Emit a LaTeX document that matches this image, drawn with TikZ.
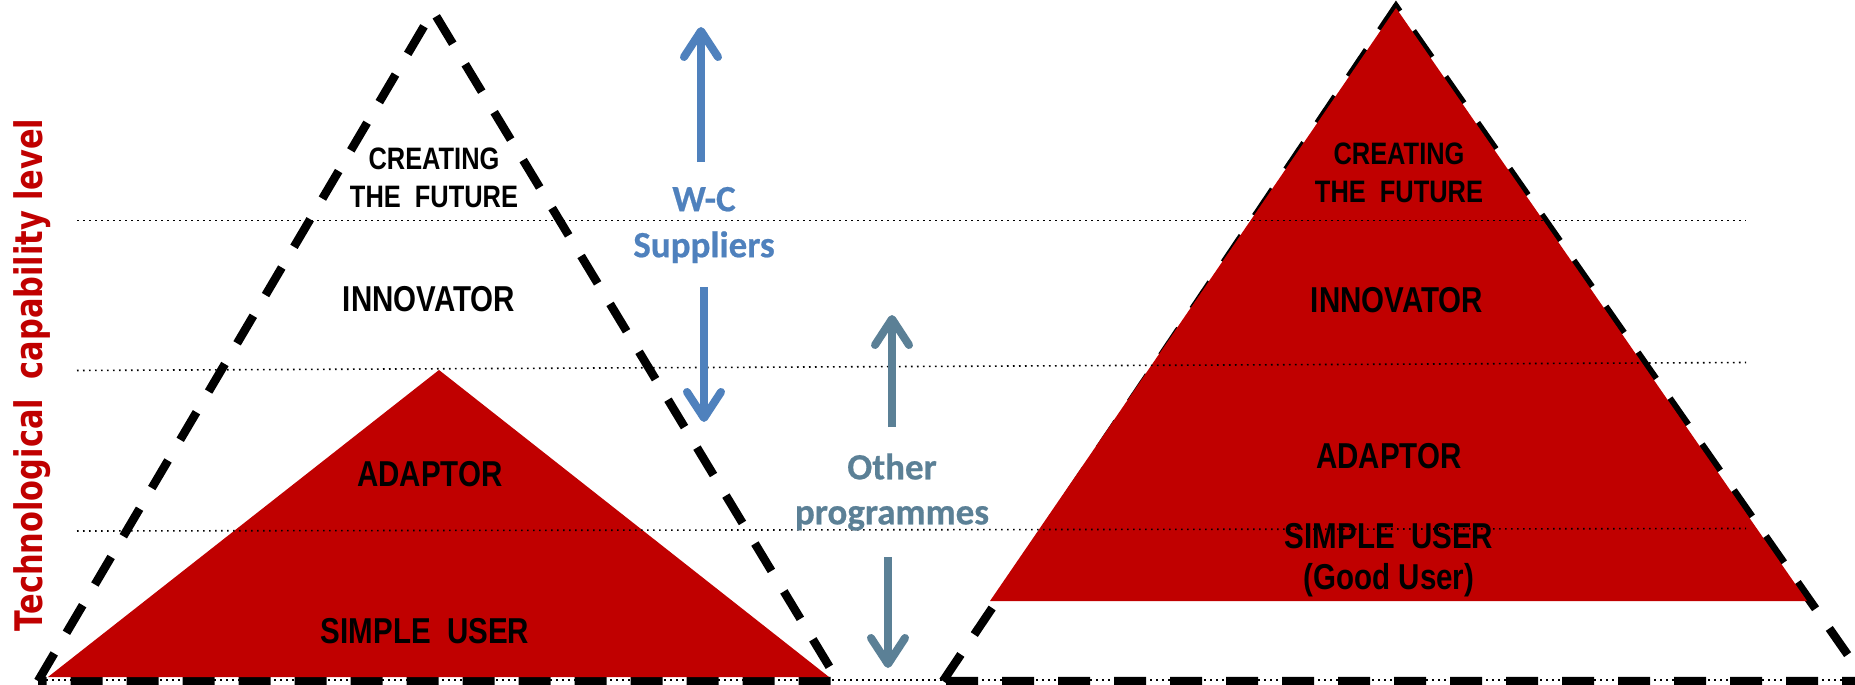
\documentclass[tikz,border=0pt]{standalone}
\usepackage{fontspec}
\setmainfont{Liberation Sans}
\newfontfamily\narrowfont[FakeStretch=0.82]{Liberation Sans}
\newfontfamily\axisfont[FakeStretch=0.8]{DejaVu Sans}
\newfontfamily\calfont[FakeBold=0.6]{Carlito}
\usetikzlibrary{arrows.meta}
\definecolor{pyrred}{HTML}{C00000}
\definecolor{wcblue}{HTML}{4F81BD}
\definecolor{progblue}{HTML}{5B8096}
\begin{document}
\begin{tikzpicture}[x=1pt,y=-1pt,
  dashtri/.style={draw=black, line width=8.5pt, dash pattern=on 32pt off 24pt},
  redfill/.style={fill=pyrred, draw=none},
  dotline/.style={draw=black, line width=1.6pt, dash pattern=on 1.6pt off 4.4pt},
  lvl/.style={inner sep=0pt, text=black, font=\narrowfont\bfseries\fontsize{36}{40}\selectfont},
  toplvl/.style={inner sep=0pt, text=black, align=center, font=\narrowfont\bfseries\fontsize{31}{38}\selectfont},
  wclabel/.style={inner sep=0pt, align=center, text=wcblue, font=\calfont\bfseries\fontsize{37}{46}\selectfont},
  proglabel/.style={inner sep=0pt, align=center, text=progblue, font=\calfont\bfseries\fontsize{37}{45}\selectfont},
  wcarrow/.style={draw=wcblue, line width=8pt, -{Straight Barb[length=26pt,width=34pt,round]}},
  progarrow/.style={draw=progblue, line width=8pt, -{Straight Barb[length=26pt,width=34pt,round]}},
  axislabel/.style={inner sep=0pt, text=pyrred, rotate=90, anchor=base, font=\axisfont\bfseries\fontsize{38}{44}\selectfont}
]
\clip (0,0) rectangle (1855,685);
\fill[white] (0,0) rectangle (1855,685);

% dashed triangles
\coordinate (LA) at (433,11);
\coordinate (LBL) at (38,681);
\coordinate (LBR) at (838,681);
\coordinate (RA) at (1396,8);
\coordinate (RBL) at (943,681);
\coordinate (RBR) at (1866,681);
\draw[dashtri] (LBL) -- (LA) -- (LBR) -- cycle;
\draw[dashtri] (RBL) -- (RA) -- (RBR) -- cycle;

% red pyramids
\coordinate (lra) at (439,370);
\coordinate (lrl) at (48,677);
\coordinate (lrr) at (829,677);
\fill[redfill] (lrl) -- (lra) -- (lrr) -- cycle;
\coordinate (rra) at (1396,8);
\coordinate (rrl) at (990,601);
\coordinate (rrr) at (1807,601);
\fill[redfill] (rrl) -- (rra) -- (rrr) -- cycle;

% dotted level lines
\coordinate (d1a) at (77,220.5); \coordinate (d1b) at (1746,220.5);
\coordinate (d2a) at (77,370.5); \coordinate (d2b) at (1746,362.5);
\coordinate (d3a) at (77,531);   \coordinate (d3b) at (1746,528.5);
\coordinate (d4a) at (40,680);   \coordinate (d4b) at (1855,680);
\draw[dotline] (d1a) -- (d1b);
\draw[dotline] (d2a) -- (d2b);
\draw[dotline] (d3a) -- (d3b);
\draw[dotline] (d4a) -- (d4b);

% left pyramid labels
\node[toplvl] (lcf) at (434,178) {CREATING\\THE\ \ FUTURE};
\node[lvl] (linn) at (429,299) {INNOVATOR};
\node[lvl] (lada) at (430,474) {ADAPTOR};
\node[lvl] (lsu) at (425,631) {SIMPLE\ \ USER};

% right pyramid labels
\node[toplvl] (rcf) at (1399,173) {CREATING\\THE\ \ FUTURE};
\node[lvl] (rinn) at (1397,300) {INNOVATOR};
\node[lvl] (rada) at (1389,456) {ADAPTOR};
\node[lvl] (rsu) at (1389,536) {SIMPLE\ \ USER};
\node[lvl] (rgu) at (1389,580) {(Good User)};

% middle labels and arrows
\node[wclabel] (wc) at (704,225) {W-C\\Suppliers};
\node[proglabel] (prog) at (892,492) {Other\\programmes};
\coordinate (wcup1) at (701,162); \coordinate (wcup2) at (701,27);
\coordinate (wcdn1) at (704,287); \coordinate (wcdn2) at (704,422);
\coordinate (pgup1) at (892,427); \coordinate (pgup2) at (892,315);
\coordinate (pgdn1) at (888,557); \coordinate (pgdn2) at (888,668);
\draw[wcarrow] (wcup1) -- (wcup2);
\draw[wcarrow] (wcdn1) -- (wcdn2);
\draw[progarrow] (pgup1) -- (pgup2);
\draw[progarrow] (pgdn1) -- (pgdn2);

% vertical axis label
\node[axislabel] (axis) at (42,375) {Technological\hspace{20pt}capability\hspace{10pt}level};
\end{tikzpicture}
\end{document}
